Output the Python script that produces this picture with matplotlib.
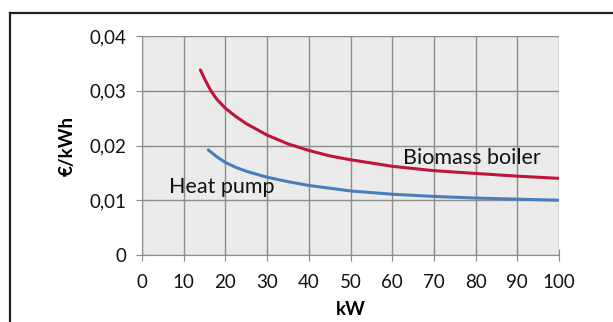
import matplotlib
matplotlib.use("Agg")
import matplotlib.pyplot as plt
from matplotlib.lines import Line2D

plt.rcParams['font.family'] = ['Lato', 'DejaVu Sans']

biomass_kw = [14, 15, 16.5, 18, 20, 22.5, 25, 30, 35, 40, 45, 50, 60, 70, 80, 90, 100]
biomass_cost = [0.0338, 0.0322, 0.0300, 0.0284, 0.0268, 0.0253, 0.0240, 0.0219, 0.0203,
                0.0191, 0.0181, 0.0174, 0.0162, 0.0154, 0.0149, 0.0144, 0.0140]
heatpump_kw = [15.9, 18, 20, 22.5, 25, 30, 35, 40, 50, 60, 70, 80, 90, 100]
heatpump_cost = [0.0192, 0.0179, 0.0169, 0.0160, 0.0153, 0.0142, 0.0134, 0.0127,
                 0.0117, 0.0111, 0.0107, 0.0104, 0.0102, 0.0100]
x_ticks = [0, 10, 20, 30, 40, 50, 60, 70, 80, 90, 100]
y_ticks = [0, 0.01, 0.02, 0.03, 0.04]
y_tick_labels = ['0', '0,01', '0,02', '0,03', '0,04']

W, H = 613, 322
fig = plt.figure(figsize=(W / 100, H / 100), dpi=100)
ax = fig.add_axes([142 / W, 1 - 255 / H, (559 - 142) / W, (255 - 36) / H])
ax.set_facecolor('#ebebeb')

ax.plot(biomass_kw, biomass_cost, color='#c0143c', lw=2.2, solid_capstyle='round')
ax.plot(heatpump_kw, heatpump_cost, color='#4a7ebb', lw=2.2, solid_capstyle='round')

ax.set_xlim(0, 100)
ax.set_ylim(0, 0.04)
ax.set_xticks(x_ticks)
ax.set_yticks(y_ticks)
ax.set_yticklabels(y_tick_labels)
ax.grid(True, color='#8c8c8c', lw=1.0)
ax.set_axisbelow(True)
for s in ['top', 'right']:
    ax.spines[s].set_visible(False)
for s in ['left', 'bottom']:
    ax.spines[s].set_color('#8c8c8c')
ax.tick_params(direction='inout', length=8, color='#8c8c8c', labelsize=13.5,
               labelcolor='#111111')
ax.tick_params(axis='y', pad=7)
ax.tick_params(axis='x', pad=10)

ax.set_xlabel('kW', fontsize=13.5, fontweight='bold', labelpad=7)
ax.set_ylabel('€/kWh', fontsize=13.5, fontweight='bold', labelpad=10)

ax.text(62.6, 0.0177, 'Biomass boiler', fontsize=15.5, va='center', ha='left', color='#111111')
ax.text(6.5, 0.0124, 'Heat pump', fontsize=15.5, va='center', ha='left', color='#111111')

fig.add_artist(Line2D([10 / W, 1.0], [1 - 13 / H, 1 - 13 / H], color='#222222', lw=1.6,
                      transform=fig.transFigure))
fig.add_artist(Line2D([10 / W, 10 / W], [0, 1 - 13 / H], color='#222222', lw=1.6,
                      transform=fig.transFigure))

fig.savefig('out.png', dpi=100)
